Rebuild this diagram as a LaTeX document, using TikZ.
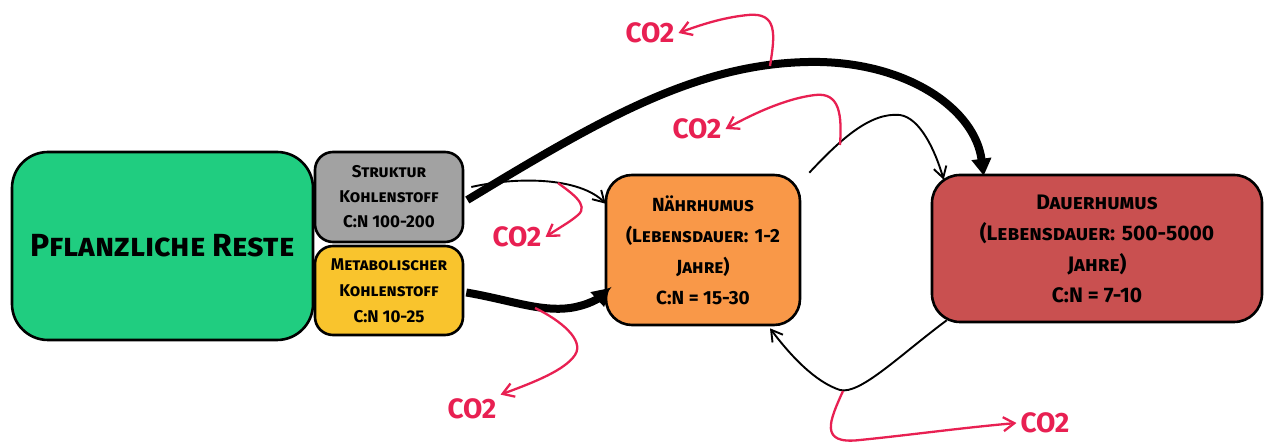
\documentclass[tikz,border=0pt]{standalone}
\usepackage{fontspec}
\setmainfont{Fira Sans}
\usetikzlibrary{arrows.meta,calc}
\definecolor{cgreen}{RGB}{32,205,128}
\definecolor{cgray}{RGB}{162,162,162}
\definecolor{cyellow}{RGB}{249,196,45}
\definecolor{corange}{RGB}{249,152,72}
\definecolor{cred}{RGB}{201,80,80}
\definecolor{cco}{RGB}{232,32,82}
\begin{document}
\begin{tikzpicture}[x=1pt,y=-1pt,
  box/.style={draw=black, line width=2.6pt, inner sep=0pt, align=center, font=\bfseries\scshape},
  thickarrow/.style={line width=8pt, -{Triangle[length=17pt,width=19pt]}},
  thinarrow/.style={line width=1.9pt, -{Straight Barb[length=11pt,width=13pt,line width=1.9pt]}},
  coarrow/.style={draw=cco, line width=2.3pt, -{Straight Barb[length=11pt,width=14pt,line width=2.3pt]}},
  colabel/.style={text=cco, font=\fontsize{28}{30}\selectfont\bfseries, inner sep=4pt}
]
\useasboundingbox (0,0) rectangle (1270,443);

% boxes
\node[box, fill=cgreen, rounded corners=36pt, minimum width=301pt, minimum height=188pt,
  font=\fontsize{32}{34}\selectfont\bfseries\scshape] (pr) at (162.5,246) {Pflanzliche Reste};
\node[box, fill=cgray, rounded corners=18pt, minimum width=148pt, minimum height=90pt,
  font=\fontsize{17}{25}\selectfont\bfseries\scshape] (sk) at (389,197) {Struktur\\Kohlenstoff\\C:N 100-200};
\node[box, fill=cyellow, rounded corners=18pt, minimum width=148pt, minimum height=89pt,
  font=\fontsize{17}{26}\selectfont\bfseries\scshape] (mk) at (389,290.5) {Metabolischer\\Kohlenstoff\\C:N 10-25};
\node[box, fill=corange, rounded corners=26pt, minimum width=194pt, minimum height=150pt,
  font=\fontsize{19}{31}\selectfont\bfseries\scshape] (nh) at (703,250) {Nährhumus\\(Lebensdauer: 1-2\\Jahre)\\C:N = 15-30};
\node[box, fill=cred, rounded corners=28pt, minimum width=330pt, minimum height=147pt,
  font=\fontsize{21}{31}\selectfont\bfseries\scshape] (dh) at (1097,248.5) {Dauerhumus\\(Lebensdauer: 500-5000\\Jahre)\\C:N = 7-10};

% main connectors
\draw[thickarrow] ($(sk.east)+(3,3)$) .. controls (600,120) and (700,60) .. (820,62)
   .. controls (910,64) and (975,110) .. ($(dh.north west)+(53,2)$);
\draw[thickarrow] ($(mk.east)+(2,2)$) .. controls (510,300) and (540,312) .. (570,308)
   .. controls (590,305) and (600,297) .. ($(nh.west)+(5,38)$);
\draw[thinarrow] ($(sk.east)+(7,-10)$) .. controls (520,176) and (580,178) .. ($(nh.north west)+(1,30)$);
\draw[thinarrow] ($(nh.north east)+(8,-1)$) .. controls (840,140) and (870,112) .. (900,115)
   .. controls (920,118) and (935,150) .. ($(dh.north west)+(13,6)$);
\draw[thinarrow] ($(dh.south west)+(16,-3)$) .. controls (900,355) and (860,395) .. (840,390)
   .. controls (815,382) and (790,355) .. ($(nh.south)+(67,2)$);

% CO2 outputs
\coordinate (ca) at (770,66);
\coordinate (cb) at (840,145);
\coordinate (cc) at (558,183);
\coordinate (cd) at (535,308);
\coordinate (ce) at (843,391);
\node[colabel] (la) at (650,33) {CO2};
\node[colabel] (lb) at (697,129) {CO2};
\node[colabel] (lc) at (517,237) {CO2};
\node[colabel] (ld) at (472,409) {CO2};
\node[colabel] (le) at (1045,423) {CO2};

\draw[coarrow] (ca) .. controls (775,35) and (778,12) .. (748,15) .. controls (728,17) and (708,22) .. (la.east);
\draw[coarrow] (cb) .. controls (842,115) and (840,92) .. (815,95) .. controls (790,98) and (760,110) .. (lb.east);
\draw[coarrow] (cc) .. controls (570,192) and (590,205) .. (578,215) .. controls (570,222) and (562,226) .. (lc.east);
\draw[coarrow] (cd) .. controls (560,320) and (585,340) .. (575,355) .. controls (565,370) and (535,382) .. (ld.north east);
\draw[coarrow] (ce) .. controls (830,420) and (818,445) .. (860,440) .. controls (910,435) and (960,428) .. (le.west);
\end{tikzpicture}
\end{document}
